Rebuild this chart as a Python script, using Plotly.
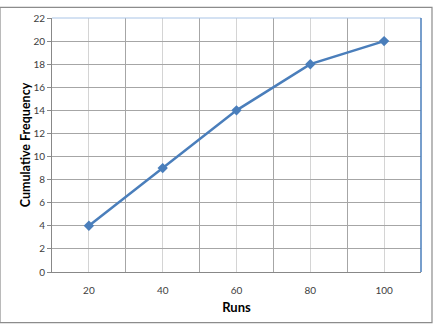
import plotly.graph_objects as go

runs = [20, 40, 60, 80, 100]
cum_freq = [4, 9, 14, 18, 20]
x_ticks = [20, 40, 60, 80, 100]
x_bounds = [30, 50, 70, 90]
y_ticks = list(range(0, 23, 2))

FONT = "Lato"

fig = go.Figure()
fig.add_trace(go.Scatter(
    x=runs, y=cum_freq, mode="lines+markers",
    line=dict(color="#4A7EBB", width=2.5),
    marker=dict(symbol="diamond", size=8, color="#4A7EBB"),
    showlegend=False,
))

fig.update_layout(
    width=433, height=325,
    margin=dict(l=52, r=12, t=11, b=53),
    paper_bgcolor="white", plot_bgcolor="white",
    font=dict(family=FONT, size=10, color="#404040"),
    xaxis=dict(
        range=[10, 110], tickvals=x_ticks, ticktext=[str(v) for v in x_ticks],
        showgrid=True, gridcolor="#D4D4D4", gridwidth=1,
        minor=dict(tickvals=x_bounds, showgrid=True, gridcolor="#A6A6A6", gridwidth=1),
        showline=True, linecolor="#888888", linewidth=1,
        ticks="", zeroline=False, ticklabelstandoff=9,
        title=dict(text="<b>Runs</b>", font=dict(family=FONT, size=13, color="#000000"), standoff=7),
        tickfont=dict(size=10),
    ),
    yaxis=dict(
        range=[0, 22], tickvals=y_ticks,
        showgrid=True, gridcolor="#A6A6A6", gridwidth=1,
        showline=True, linecolor="#888888", linewidth=1,
        ticks="outside", ticklen=4, tickcolor="#888888",
        zeroline=False,
        title=dict(text="<b>Cumulative Frequency</b>", font=dict(family=FONT, size=12.5, color="#000000"), standoff=0),
        tickfont=dict(size=10),
    ),
    shapes=[
        dict(type="line", xref="paper", yref="paper", x0=0, x1=1, y0=1, y1=1,
             line=dict(color="#A9C4E6", width=1)),
        dict(type="line", xref="paper", yref="paper", x0=1, x1=1, y0=0, y1=1,
             line=dict(color="#4A7EBB", width=1.5)),
        dict(type="rect", xref="paper", yref="paper",
             x0=-52/369, x1=1 + 11/369, y0=-52/261, y1=1 + 11/261,
             line=dict(color="#8C8C8C", width=1.2), layer="above"),
    ],
)

fig.write_html("out.html")
